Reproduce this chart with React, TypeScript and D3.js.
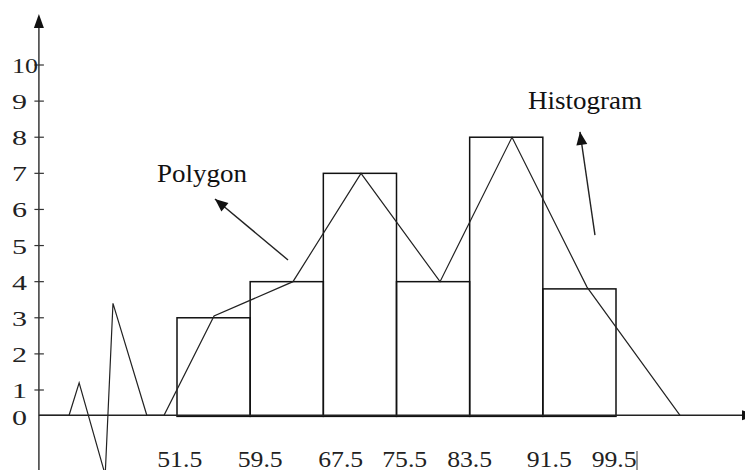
import React from "react";
import * as d3 from "d3";

// ---- data ----
const classBounds = [51.5, 59.5, 67.5, 75.5, 83.5, 91.5, 99.5];
const frequencies = [3, 4, 7, 4, 8, 3.8];

// frequency polygon (class marks as drawn)
const polygonX = [50.08, 55.55, 64.18, 71.62, 80.26, 88.13, 96.33, 106.5];
const polygonY = [0.3, 3.05, 4, 7, 4, 8, 3.85, 0.3];

// axis-break zigzag before the first class
const breakX = [36.4, 39.7, 40.8, 43.65, 44.5, 48.2];
const breakY = [0.3, 0.3, 1.2, -1.35, 3.4, 0.3];

const yTickValues = [1, 2, 3, 4, 5, 6, 7, 8, 9, 10];
const yLabelValues = [0, 1, 2, 3, 4, 5, 6, 7, 8, 9, 10];
const xTickLabels = ["51.5", "59.5", "67.5", "75.5", "83.5", "91.5", "99.5"];
const xTickAt = [51.8, 60.6, 69.4, 76.4, 83.5, 92.2, 99.3];

const annotations = [
  { text: "Polygon", tx: 49.31, ty: 6.76, fromX: 63.64, fromY: 4.6, toX: 55.65, toY: 6.29, width: 90 },
  { text: "Histogram", tx: 89.88, ty: 8.78, fromX: 97.2, fromY: 5.29, toX: 95.56, toY: 8.15, width: 114 },
];

const axisBase = 0.3;

const W = 745;
const H = 470;
const FONT = "Liberation Serif, Times New Roman, Times, serif";

export default function App() {
  const x = d3.scaleLinear().domain([51.5, 99.5]).range([177, 616]);
  const y = d3.scaleLinear().domain([1, 10]).range([390, 65]);
  const axisX = x(36.4);
  const baseY = y(axisBase);

  const line = d3
    .line<[number, number]>()
    .x((d) => x(d[0]))
    .y((d) => y(d[1]));

  const pts: [number, number][] = [
    ...breakX.map((v, i) => [v, breakY[i]] as [number, number]),
    ...polygonX.map((v, i) => [v, polygonY[i]] as [number, number]),
  ];

  const arrowHead = (x1: number, y1: number, x2: number, y2: number, len = 14, half = 5) => {
    const a = Math.atan2(y2 - y1, x2 - x1);
    const bx = x2 - len * Math.cos(a);
    const by = y2 - len * Math.sin(a);
    const px = -Math.sin(a) * half;
    const py = Math.cos(a) * half;
    return `M${x2},${y2}L${bx + px},${by + py}L${bx - px},${by - py}Z`;
  };

  return (
    <svg
      width={W}
      height={H}
      viewBox={`0 0 ${W} ${H}`}
      style={{ position: "absolute", left: 0, top: 0, background: "#fff" }}
    >
      <rect x={0} y={0} width={W} height={H} fill="#fff" />

      {/* histogram bars */}
      {frequencies.map((f, i) => (
        <rect
          key={i}
          x={x(classBounds[i])}
          y={y(f)}
          width={x(classBounds[i + 1]) - x(classBounds[i])}
          height={y(axisBase - 0.03) - y(f)}
          fill="none"
          stroke="#111"
          strokeWidth={1.5}
        />
      ))}

      {/* x axis */}
      <line x1={axisX} y1={baseY} x2={742} y2={baseY} stroke="#222" strokeWidth={1.5} />
      <path d={arrowHead(axisX, baseY, 756, baseY)} fill="#111" />

      {/* y axis */}
      <line x1={axisX} y1={H} x2={axisX} y2={26} stroke="#444" strokeWidth={1.6} />
      <path d={arrowHead(axisX, 100, axisX, 14, 14, 5)} fill="#111" />
      {yTickValues.map((t) => (
        <line key={t} x1={axisX - 4.5} x2={axisX + 5} y1={y(t)} y2={y(t)} stroke="#333" strokeWidth={1.2} />
      ))}
      {yLabelValues.map((t) => (
        <text
          key={"l" + t}
          x={12}
          y={(t === 0 ? baseY + 2 : y(t)) + 8}
          fontFamily={FONT}
          fontSize={22}
          textLength={t >= 10 ? 26 : 15}
          lengthAdjust="spacingAndGlyphs"
          fill="#222"
        >
          {t}
        </text>
      ))}

      {/* polygon with axis break */}
      <path d={line(pts) || ""} fill="none" stroke="#222" strokeWidth={1.2} strokeLinejoin="miter" />

      {/* x tick labels */}
      {xTickLabels.map((l, i) => (
        <text
          key={l}
          x={x(xTickAt[i])}
          y={467}
          textAnchor="middle"
          fontFamily={FONT}
          fontSize={24}
          textLength={45}
          lengthAdjust="spacingAndGlyphs"
          fill="#222"
        >
          {l}
        </text>
      ))}
      <line x1={637} x2={637} y1={451} y2={470} stroke="#333" strokeWidth={1} />

      {/* annotations */}
      {annotations.map((a) => (
        <g key={a.text}>
          <text
            x={x(a.tx)}
            y={y(a.ty)}
            fontFamily={FONT}
            fontSize={25}
            textLength={a.width}
            lengthAdjust="spacingAndGlyphs"
            fill="#111"
          >
            {a.text}
          </text>
          <line
            x1={x(a.fromX)}
            y1={y(a.fromY)}
            x2={x(a.toX)}
            y2={y(a.toY)}
            stroke="#222"
            strokeWidth={1.4}
          />
          <path d={arrowHead(x(a.fromX), y(a.fromY), x(a.toX), y(a.toY), 13, 5.5)} fill="#111" />
        </g>
      ))}
    </svg>
  );
}
